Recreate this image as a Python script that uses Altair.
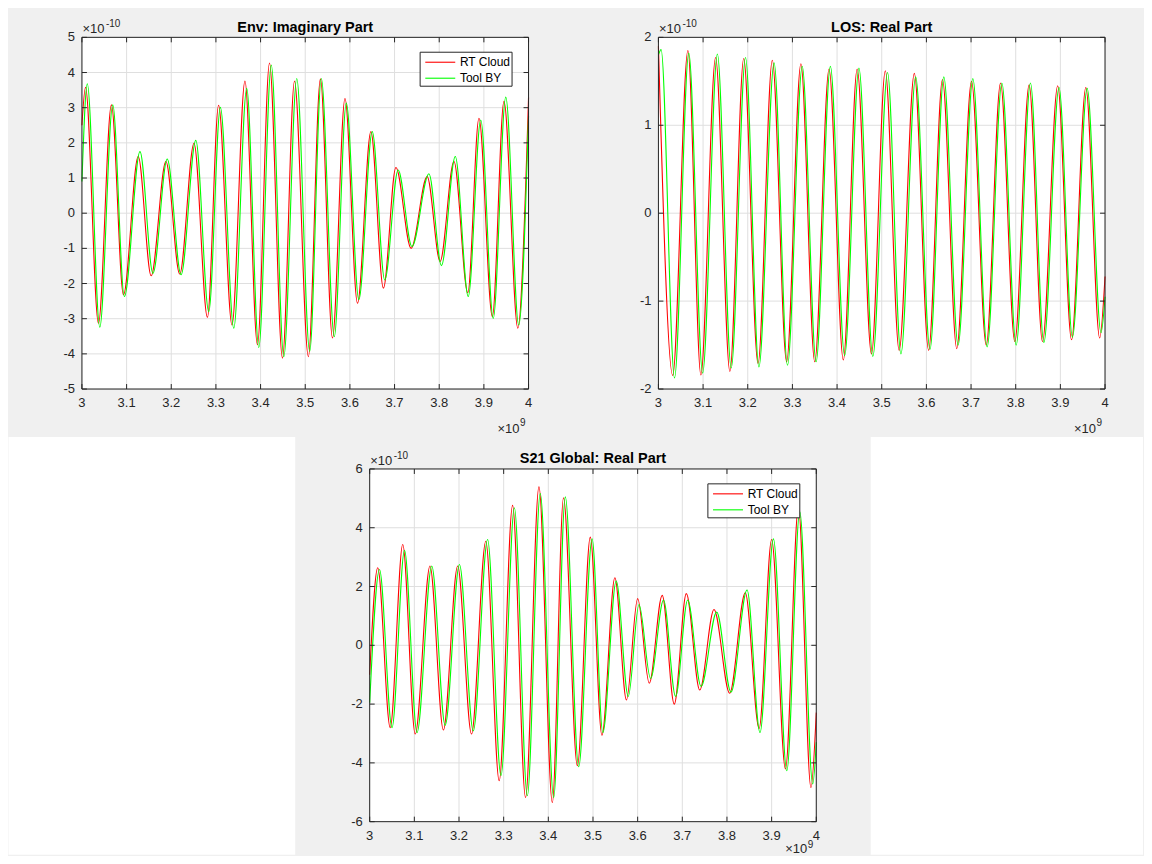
import altair as alt
import pandas as pd

FONT = "Liberation Sans, Arial, Helvetica, sans-serif"
INK = "#262626"
GRID = "#dfdfdf"
BG = "#f0f0f0"
RED = "#ff0000"
GREEN = "#00ff00"
SERIES = ["RT Cloud", "Tool BY"]

X_LIM = [3.0, 4.0]
X_TICKS = [3.0, 3.1, 3.2, 3.3, 3.4, 3.5, 3.6, 3.7, 3.8, 3.9, 4.0]
X_LABELS = ["3", "3.1", "3.2", "3.3", "3.4", "3.5", "3.6", "3.7", "3.8", "3.9", "4"]

# ---------------- Env: Imaginary Part (x in 1e9, y in 1e-10) ----------------
env_title = "Env: Imaginary Part"
env_ylim = [-5, 5]
env_yticks = [-5, -4, -3, -2, -1, 0, 1, 2, 3, 4, 5]
env_ylabels = ["-5", "-4", "-3", "-2", "-1", "0", "1", "2", "3", "4", "5"]
env_red_x = [3.000, 3.008, 3.037, 3.066, 3.093, 3.126, 3.155, 3.188, 3.219, 3.251,
             3.281, 3.306, 3.336, 3.365, 3.393, 3.420, 3.449, 3.476, 3.507, 3.534,
             3.561, 3.589, 3.617, 3.647, 3.675, 3.703, 3.737, 3.773, 3.802, 3.833,
             3.864, 3.889, 3.919, 3.945, 3.976, 4.000]
env_red_y = [2.5, 3.58, -3.13, 3.08, -2.32, 1.61, -1.78, 1.47, -1.73, 1.99,
             -2.96, 3.07, -3.18, 3.76, -3.74, 4.27, -4.12, 3.76, -4.08, 3.82,
             -3.55, 3.26, -2.56, 2.32, -2.13, 1.30, -1.00, 1.04, -1.37, 1.47,
             -2.26, 2.70, -2.94, 3.18, -3.27, 3.29]
env_green_x = [3.000, 3.012, 3.040, 3.069, 3.095, 3.130, 3.159, 3.191, 3.222, 3.255,
               3.284, 3.310, 3.340, 3.369, 3.396, 3.424, 3.452, 3.481, 3.510, 3.536,
               3.565, 3.592, 3.620, 3.650, 3.678, 3.708, 3.739, 3.777, 3.805, 3.836,
               3.865, 3.893, 3.921, 3.949, 3.978, 4.000]
env_green_y = [0.9, 3.68, -3.24, 3.08, -2.37, 1.75, -1.71, 1.54, -1.75, 2.07,
               -2.80, 3.01, -3.27, 3.55, -3.82, 4.21, -4.08, 3.83, -3.93, 3.83,
               -3.51, 3.13, -2.46, 2.32, -1.90, 1.23, -0.95, 1.12, -1.49, 1.61,
               -2.37, 2.65, -2.99, 3.30, -3.18, 2.77]

# ---------------- LOS: Real Part ----------------
los_title = "LOS: Real Part"
los_ylim = [-2, 2]
los_yticks = [-2, -1, 0, 1, 2]
los_ylabels = ["-2", "-1", "0", "1", "2"]
los_red_x = [3.000, 3.032, 3.066, 3.095, 3.128, 3.160, 3.191, 3.223, 3.255, 3.287,
             3.319, 3.350, 3.382, 3.414, 3.445, 3.477, 3.508, 3.539, 3.573, 3.605,
             3.636, 3.668, 3.701, 3.734, 3.766, 3.798, 3.830, 3.860, 3.894, 3.925,
             3.957, 3.988, 4.000]
los_red_y = [1.90, -1.845, 1.85, -1.84, 1.77, -1.80, 1.76, -1.71, 1.74, -1.69,
             1.70, -1.69, 1.64, -1.67, 1.64, -1.60, 1.62, -1.56, 1.59, -1.56,
             1.52, -1.54, 1.50, -1.50, 1.48, -1.46, 1.46, -1.46, 1.45, -1.44,
             1.43, -1.42, -0.72]
los_green_x = [3.000, 3.006, 3.036, 3.068, 3.099, 3.132, 3.163, 3.195, 3.225, 3.259,
               3.289, 3.322, 3.353, 3.385, 3.417, 3.449, 3.480, 3.513, 3.543, 3.576,
               3.608, 3.639, 3.671, 3.704, 3.736, 3.769, 3.801, 3.833, 3.863, 3.897,
               3.927, 3.960, 3.991, 4.000]
los_green_y = [1.80, 1.86, -1.875, 1.82, -1.82, 1.81, -1.76, 1.77, -1.75, 1.71,
               -1.73, 1.67, -1.69, 1.67, -1.62, 1.65, -1.63, 1.60, -1.60, 1.55,
               -1.55, 1.55, -1.50, 1.53, -1.52, 1.48, -1.50, 1.48, -1.47, 1.43,
               -1.41, 1.42, -1.36, -0.95]

# ---------------- S21 Global: Real Part ----------------
s21_title = "S21 Global: Real Part"
s21_ylim = [-6, 6]
s21_yticks = [-6, -4, -2, 0, 2, 4, 6]
s21_ylabels = ["-6", "-4", "-2", "0", "2", "4", "6"]
s21_red_x = [3.000, 3.018, 3.046, 3.074, 3.102, 3.135, 3.165, 3.197, 3.228, 3.260,
             3.290, 3.320, 3.349, 3.379, 3.409, 3.434, 3.465, 3.494, 3.520, 3.549,
             3.575, 3.600, 3.626, 3.655, 3.682, 3.709, 3.739, 3.771, 3.806, 3.841,
             3.872, 3.900, 3.931, 3.960, 3.988, 4.000]
s21_red_y = [-1.0, 2.64, -2.80, 3.43, -3.02, 2.70, -2.88, 2.70, -3.02, 3.54,
             -4.61, 4.76, -5.18, 5.39, -5.35, 5.02, -4.10, 3.68, -3.06, 2.30,
             -1.86, 1.59, -1.29, 1.70, -2.00, 1.76, -1.52, 1.22, -1.63, 1.79,
             -2.83, 3.60, -4.21, 4.70, -4.84, -2.29]
s21_green_x = [3.000, 3.022, 3.050, 3.078, 3.106, 3.139, 3.169, 3.201, 3.232, 3.264,
               3.294, 3.324, 3.353, 3.382, 3.412, 3.438, 3.468, 3.498, 3.522, 3.552,
               3.579, 3.603, 3.629, 3.658, 3.685, 3.712, 3.742, 3.777, 3.809, 3.845,
               3.874, 3.904, 3.934, 3.963, 3.992, 4.000]
s21_green_y = [-1.95, 2.58, -2.80, 3.23, -2.97, 2.70, -2.72, 2.75, -2.91, 3.60,
               -4.44, 4.68, -5.12, 5.16, -5.18, 5.05, -4.13, 3.62, -2.97, 2.19,
               -1.74, 1.39, -1.13, 1.54, -1.74, 1.54, -1.40, 1.13, -1.59, 1.88,
               -2.97, 3.62, -4.27, 4.55, -4.72, -3.30]

Y_EXP = ["×10", "-10"]
X_EXP = ["×10", "9"]

ONE = pd.DataFrame({"k": [0]})


def text_at(txt, x, y, size, align="left", baseline="alphabetic", color=INK, weight="normal"):
    return alt.Chart(ONE).mark_text(
        text=txt, font=FONT, fontSize=size, color=color, align=align, baseline=baseline,
        fontWeight=weight,
    ).encode(x=alt.value(x), y=alt.value(y))


def anchor(x1, x2, y1, y2, color=BG):
    return alt.Chart(ONE).mark_rect(color=color).encode(
        x=alt.value(x1), x2=alt.value(x2), y=alt.value(y1), y2=alt.value(y2))


def panel(title, rx, ry, gx, gy, ylim, yticks, ylabels, w, h, xexp_y, sup_rise=7, x0=0,
          extra_back=()):
    lines = pd.DataFrame({
        "x": rx + gx,
        "y": ry + gy,
        "series": [SERIES[0]] * len(rx) + [SERIES[1]] * len(gx),
    })
    xs = alt.Scale(domain=X_LIM, range=[x0, x0 + w], nice=False, zero=False)
    ys = alt.Scale(domain=ylim, nice=False, zero=False)
    xt = pd.DataFrame({"v": X_TICKS, "lab": X_LABELS})
    yt = pd.DataFrame({"v": yticks, "lab": ylabels})
    xl = pd.DataFrame({"v": X_LIM})
    yl = pd.DataFrame({"v": ylim})
    area = pd.DataFrame({"x1": [X_LIM[0]], "x2": [X_LIM[1]], "y1": [ylim[0]], "y2": [ylim[1]]})

    face = alt.Chart(area).mark_rect(color="white").encode(
        x=alt.X("x1:Q", scale=xs, axis=None), x2="x2:Q",
        y=alt.Y("y1:Q", scale=ys, axis=None), y2="y2:Q")
    grid_x = alt.Chart(xt).mark_rule(color=GRID, strokeWidth=1).encode(
        x=alt.X("v:Q", scale=xs, axis=None))
    grid_y = alt.Chart(yt).mark_rule(color=GRID, strokeWidth=1).encode(
        y=alt.Y("v:Q", scale=ys, axis=None), x=alt.value(x0), x2=alt.value(x0 + w))

    line = alt.Chart(lines).mark_line(strokeWidth=1.1, interpolate="monotone").encode(
        x=alt.X("x:Q", scale=xs, axis=None),
        y=alt.Y("y:Q", scale=ys, axis=None),
        color=alt.Color("series:N", scale=alt.Scale(domain=SERIES, range=[RED, GREEN]),
                        legend=alt.Legend(
                            title=None, orient="none", legendX=x0 + 338, legendY=14.4,
                            fillColor="white", strokeColor=INK, padding=1,
                            symbolType="M-0.548,0H2.842", symbolSize=313,
                            symbolStrokeWidth=1.1,
                            labelFont=FONT, labelFontSize=12, labelColor="#000000",
                            labelOffset=20.3, rowPadding=0, cornerRadius=0)),
    )

    xlab = alt.Chart(xt).mark_text(font=FONT, fontSize=13, color=INK, align="center",
                                   baseline="top").encode(
        x=alt.X("v:Q", scale=xs, axis=None), y=alt.value(h + 8), text="lab:N")
    ylab = alt.Chart(yt).mark_text(font=FONT, fontSize=13, color=INK, align="right",
                                   baseline="middle").encode(
        y=alt.Y("v:Q", scale=ys, axis=None), x=alt.value(x0 - 7), text="lab:N")

    tick_xb = alt.Chart(xt).mark_rule(color=INK).encode(
        x=alt.X("v:Q", scale=xs, axis=None), y=alt.value(h - 5), y2=alt.value(h))
    tick_xt = alt.Chart(xt).mark_rule(color=INK).encode(
        x=alt.X("v:Q", scale=xs, axis=None), y=alt.value(0), y2=alt.value(5))
    tick_yl = alt.Chart(yt).mark_rule(color=INK).encode(
        y=alt.Y("v:Q", scale=ys, axis=None), x=alt.value(x0), x2=alt.value(x0 + 5))
    tick_yr = alt.Chart(yt).mark_rule(color=INK).encode(
        y=alt.Y("v:Q", scale=ys, axis=None), x=alt.value(x0 + w - 5), x2=alt.value(x0 + w))
    box_x = alt.Chart(xl).mark_rule(color=INK).encode(x=alt.X("v:Q", scale=xs, axis=None))
    box_y = alt.Chart(yl).mark_rule(color=INK).encode(
        y=alt.Y("v:Q", scale=ys, axis=None), x=alt.value(x0), x2=alt.value(x0 + w))

    ttl = text_at(title, x0 + w / 2, -5.5, 14.5, align="center", color="#000000",
                  weight="bold")
    yexp1 = text_at(Y_EXP[0], x0 + 0.5, -4, 13)
    yexp2 = text_at(Y_EXP[1], x0 + 24, -10, 10)
    xexp1 = text_at(X_EXP[0], x0 + w - 9, xexp_y, 13, align="right")
    xexp2 = text_at(X_EXP[1], x0 + w - 8.5, xexp_y - sup_rise, 10)

    layers = list(extra_back) + [face, grid_x, grid_y, line, tick_xb, tick_xt, tick_yl,
                                 tick_yr, box_x, box_y, xlab, ylab, ttl, yexp1, yexp2,
                                 xexp1, xexp2]
    return alt.layer(*layers).properties(width=x0 + w, height=h)


W, H1, H3 = 447, 352, 353
X3 = 288  # horizontal offset of the lower window's axes relative to the upper-left axes

p1 = panel(env_title, env_red_x, env_red_y, env_green_x, env_green_y, env_ylim, env_yticks,
           env_ylabels, W, H1, 396,
           extra_back=[anchor(-73.5, 511.5, -29, -28.5), anchor(0, 1, 399.5, 400)])
p2 = panel(los_title, los_red_x, los_red_y, los_green_x, los_green_y, los_ylim, los_yticks,
           los_ylabels, W, H1, 396,
           extra_back=[anchor(-64.5, 486, -29, -28.5)])
p3 = panel(s21_title, s21_red_x, s21_red_y, s21_green_x, s21_green_y, s21_ylim, s21_yticks,
           s21_ylabels, W, H3, 384, sup_rise=5, x0=X3,
           extra_back=[anchor(-73.5, 213.5, -32, 386, "white"),
                       anchor(789.5, 1062, -32, 386, "white")])

top = alt.hconcat(p1, p2, spacing=0)
chart = alt.vconcat(top, p3, spacing=0).resolve_scale(
    color="independent").resolve_legend(color="independent").properties(
    padding=0, background=BG).configure_view(stroke=None, fill=None)

chart.save("out.html", embed_options={"renderer": "svg", "actions": False})
